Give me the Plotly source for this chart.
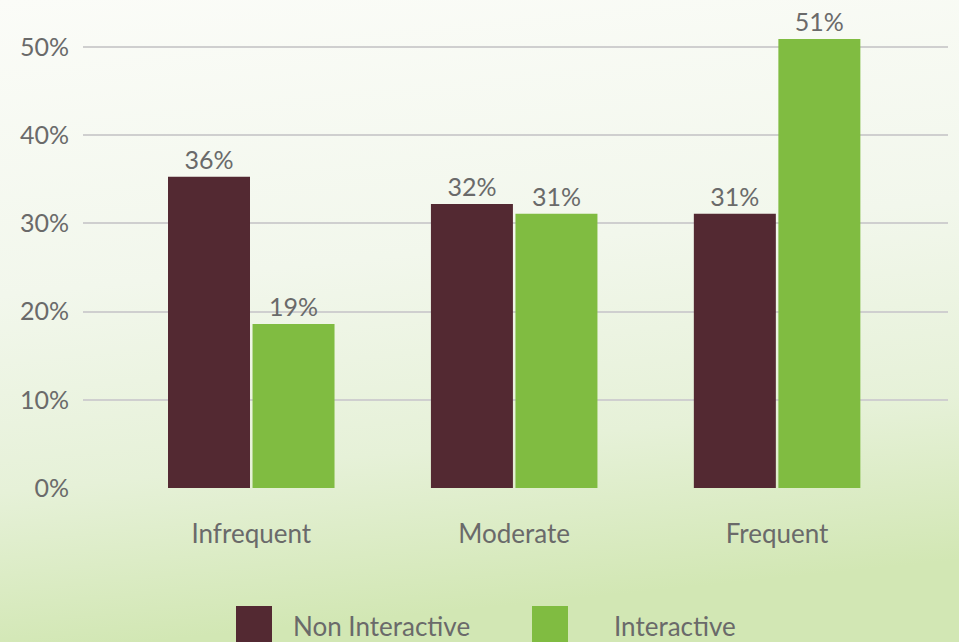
import base64
import plotly.graph_objects as go

categories = ["Infrequent", "Moderate", "Frequent"]
non_interactive = [35.3, 32.2, 31.1]
interactive = [18.6, 31.1, 50.9]
non_interactive_labels = ["36%", "32%", "31%"]
interactive_labels = ["19%", "31%", "51%"]
y_ticks = [0, 10, 20, 30, 40, 50]
y_tick_labels = ["0%", "10%", "20%", "30%", "40%", "50%"]
series_names = ["Non Interactive", "Interactive"]
colors = ["#532932", "#80bc41"]

W, H = 959, 642
L, R, T, B = 83, 11, 10, 154
pw, ph = W - L - R, H - T - B

font = "Lato, 'Open Sans', sans-serif"
grey = "#6a6a6a"
fw = 400

svg = f"""<svg xmlns='http://www.w3.org/2000/svg' width='{W}' height='{H}' viewBox='0 0 {W} {H}' preserveAspectRatio='none'>
<defs><linearGradient id='g' x1='0' y1='0' x2='0.15' y2='1'>
<stop offset='0' stop-color='#fbfcf8'/>
<stop offset='0.45' stop-color='#f2f7ec'/>
<stop offset='0.75' stop-color='#e6f1d8'/>
<stop offset='1' stop-color='#d2e7b4'/>
</linearGradient></defs>
<rect width='{W}' height='{H}' fill='url(#g)'/>
</svg>"""
src = "data:image/svg+xml;base64," + base64.b64encode(svg.encode()).decode()

fig = go.Figure()
fig.add_trace(go.Bar(x=categories, y=non_interactive, name=series_names[0],
                     marker=dict(color=colors[0], line=dict(width=0)),
                     text=non_interactive_labels, textposition="outside",
                     textfont=dict(family=font, size=25, color=grey, weight=fw), cliponaxis=False))
fig.add_trace(go.Bar(x=categories, y=interactive, name=series_names[1],
                     marker=dict(color=colors[1], line=dict(width=0)),
                     text=interactive_labels, textposition="outside",
                     textfont=dict(family=font, size=25, color=grey, weight=fw), cliponaxis=False))

# manual legend with large squares
legend_x_px = [236, 532]
legend_text_px = [291, 612]
for i, name in enumerate(series_names):
    x0 = (legend_x_px[i] - L) / pw
    x1 = (legend_x_px[i] + 36 - L) / pw
    y0 = (H - B - 642) / ph
    y1 = (H - B - 606) / ph
    fig.add_shape(type="rect", xref="paper", yref="paper", x0=x0, x1=x1, y0=y0, y1=y1,
                  fillcolor=colors[i], line=dict(width=0), layer="above")
    fig.add_annotation(xref="paper", yref="paper", x=(legend_text_px[i] - L) / pw,
                       y=(H - B - 626) / ph, text=name, showarrow=False, xanchor="left",
                       yanchor="middle", font=dict(family=font, size=26, color=grey, weight=fw))

fig.update_layout(
    width=W, height=H,
    margin=dict(l=L, r=R, t=T, b=B, autoexpand=False),
    paper_bgcolor="#f4f8ee", plot_bgcolor="rgba(0,0,0,0)",
    barmode="group", bargap=0.357, bargroupgap=0.03,
    showlegend=False,
    images=[dict(source=src, xref="paper", yref="paper",
                 x=-L / pw, y=(H - B) / ph, sizex=W / pw, sizey=H / ph,
                 xanchor="left", yanchor="top", sizing="stretch", layer="below")],
    xaxis=dict(range=[-0.64, 2.65], showgrid=False, zeroline=False, showline=False,
               ticks="", tickfont=dict(family=font, size=26, color=grey, weight=fw),
               ticklabelstandoff=28),
    yaxis=dict(range=[0, (H - B - T) / 8.82], tickvals=y_ticks, ticktext=y_tick_labels,
               showgrid=True, gridcolor="#cfcfcf", gridwidth=2, zeroline=False, showline=False,
               ticks="", tickfont=dict(family=font, size=25, color=grey, weight=fw),
               ticklabelstandoff=13),
)

fig.write_html("out.html", config={"displayModeBar": False},
               post_script="document.body.style.margin='0';document.body.style.overflow='hidden';")
